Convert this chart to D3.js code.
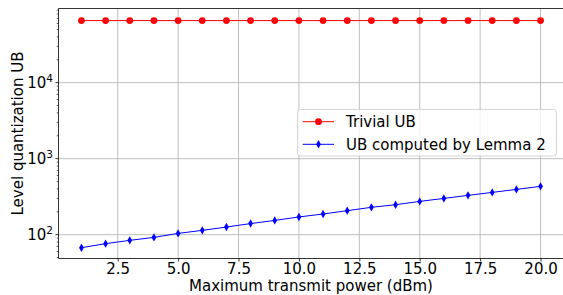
<!DOCTYPE html>
<html><head><meta charset="utf-8">
<script src="https://cdn.jsdelivr.net/npm/d3@7"></script>
<style>
body{margin:0;background:#fff;}
svg{display:block;font-family:"DejaVu Sans",sans-serif;}
</style></head><body>
<svg id="chart" width="563" height="295"></svg>
<script>
const xValues = [1,2,3,4,5,6,7,8,9,10,11,12,13,14,15,16,17,18,19,20];
const trivialUB = [65536,65536,65536,65536,65536,65536,65536,65536,65536,65536,65536,65536,65536,65536,65536,65536,65536,65536,65536,65536];
const lemmaUB = [67.4,76.2,84.2,92.1,104,114,126,140,154,171,187,207,229,248,274,300,329,360,394,432];
const seriesNames = ["Trivial UB","UB computed by Lemma 2"];
const xTicks = [2.5,5.0,7.5,10.0,12.5,15.0,17.5,20.0];
const yTicks = [100,1000,10000];
const xLabel = "Maximum transmit power (dBm)";
const yLabel = "Level quantization UB";

const svg = d3.select("#chart");
const L = 58.5, T = 8.5, R = 563.5, B = 258.5;
const x = d3.scaleLinear().domain([0.05,20.95]).range([L,R]);
const y = d3.scaleLog().domain([48.6,94500]).range([B,T]);
const FS = 15;

// grid
const g = svg.append("g");
g.selectAll(".vg").data(xTicks).enter().append("line")
 .attr("x1",d=>x(d)).attr("x2",d=>x(d)).attr("y1",T).attr("y2",B)
 .attr("stroke","#b0b0b0").attr("stroke-width",0.8);
g.selectAll(".hg").data(yTicks).enter().append("line")
 .attr("x1",L).attr("x2",R).attr("y1",d=>y(d)).attr("y2",d=>y(d))
 .attr("stroke","#b0b0b0").attr("stroke-width",0.8);

// axes
const xAxis = d3.axisBottom(x).tickValues(xTicks).tickFormat(d3.format(".1f")).tickSize(3).tickPadding(2);
const xg = svg.append("g").attr("transform",`translate(0,${B})`).call(xAxis);
xg.select(".domain").remove();
xg.selectAll("text").attr("font-size",FS).attr("font-family","DejaVu Sans").attr("fill","#000").attr("y",15).attr("dy",0);
xg.selectAll("line").attr("stroke","#000").attr("stroke-width",0.8);

// minor y ticks
const minor = [];
for (let e=1;e<=4;e++) for (let m=2;m<=9;m++){ const v=m*Math.pow(10,e); if (v>=y.domain()[0] && v<=y.domain()[1]) minor.push(v); }
svg.selectAll(".mt").data(minor).enter().append("line")
 .attr("x1",L).attr("x2",L-1.8).attr("y1",d=>y(d)).attr("y2",d=>y(d))
 .attr("stroke","#000").attr("stroke-width",0.6);
svg.selectAll(".Mt").data(yTicks).enter().append("line")
 .attr("x1",L).attr("x2",L-3).attr("y1",d=>y(d)).attr("y2",d=>y(d))
 .attr("stroke","#000").attr("stroke-width",0.8);
const yl = svg.selectAll(".yl").data(yTicks).enter().append("text")
 .attr("x",L-5.5).attr("y",d=>y(d)+5.5).attr("text-anchor","end")
 .attr("font-size",FS).attr("fill","#000");
yl.append("tspan").text("10");
yl.append("tspan").attr("dy",-6.5).attr("font-size",10.5).text(d=>Math.round(Math.log10(d)));

// spines
svg.append("line").attr("x1",L).attr("x2",L).attr("y1",T).attr("y2",B).attr("stroke","#000").attr("stroke-width",0.8);
svg.append("line").attr("x1",L).attr("x2",R).attr("y1",B).attr("y2",B).attr("stroke","#000").attr("stroke-width",0.8);
svg.append("line").attr("x1",L).attr("x2",R).attr("y1",T).attr("y2",T).attr("stroke","#000").attr("stroke-width",0.8);
svg.append("line").attr("x1",R).attr("x2",R).attr("y1",T).attr("y2",B).attr("stroke","#000").attr("stroke-width",0.8);

// labels
svg.append("text").attr("x",(L+R)/2).attr("y",290.5).attr("text-anchor","middle").attr("font-size",FS).text(xLabel);
svg.append("text").attr("transform",`translate(22.5,${(T+B)/2}) rotate(-90)`).attr("text-anchor","middle").attr("font-size",FS).text(yLabel);

// series
const line = d3.line().x((d,i)=>x(xValues[i])).y(d=>y(d));
svg.append("path").datum(trivialUB).attr("d",line).attr("fill","none").attr("stroke","#ff0000").attr("stroke-width",1);
svg.selectAll(".rc").data(trivialUB).enter().append("circle")
 .attr("cx",(d,i)=>x(xValues[i])).attr("cy",d=>y(d)).attr("r",3.4).attr("fill","#ff0000");
svg.append("path").datum(lemmaUB).attr("d",line).attr("fill","none").attr("stroke","#0000ff").attr("stroke-width",1);
const dia = (cx,cy)=>`M${cx},${cy-4.2}L${cx+2.4},${cy}L${cx},${cy+4.2}L${cx-2.4},${cy}Z`;
svg.selectAll(".bd").data(lemmaUB).enter().append("path")
 .attr("d",(d,i)=>dia(x(xValues[i]),y(d))).attr("fill","#0000ff");

// legend
const lg = svg.append("g");
lg.append("rect").attr("x",297.5).attr("y",109.5).attr("width",259).attr("height",46.5).attr("rx",3)
 .attr("fill","#fff").attr("fill-opacity",0.8).attr("stroke","#cccccc").attr("stroke-width",0.8);
const rows = [{name:seriesNames[0],c:"#ff0000",m:"c",yy:121.7},{name:seriesNames[1],c:"#0000ff",m:"d",yy:144.3}];
rows.forEach(r=>{
  lg.append("line").attr("x1",302.7).attr("x2",334).attr("y1",r.yy).attr("y2",r.yy).attr("stroke",r.c).attr("stroke-width",1);
  if (r.m==="c") lg.append("circle").attr("cx",318.5).attr("cy",r.yy).attr("r",3.4).attr("fill",r.c);
  else lg.append("path").attr("d",dia(318.5,r.yy)).attr("fill",r.c);
  lg.append("text").attr("x",346).attr("y",r.yy+5.3).attr("font-size",FS).text(r.name);
});
</script></body></html>
